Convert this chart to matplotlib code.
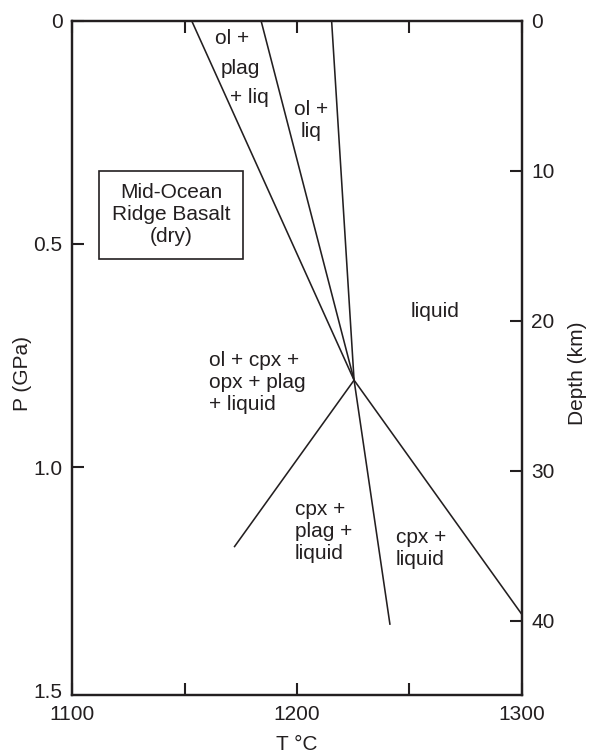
import matplotlib.pyplot as plt

plt.rcParams['font.family'] = ['Liberation Sans', 'DejaVu Sans']
ink = '#231f20'

# phase boundaries (T in °C, P in GPa)
invariant_T, invariant_P = 1225.4, 0.805
ol_plag_T = [1153.1, invariant_T]
ol_plag_P = [0.0, invariant_P]
ol_T = [1184.0, invariant_T]
ol_P = [0.0, invariant_P]
liquidus_T = [1215.4, invariant_T, 1241.4]
liquidus_P = [0.0, invariant_P, 1.353]
opx_T = [1172.0, invariant_T]
opx_P = [1.179, invariant_P]
cpx_T = [invariant_T, 1300.0]
cpx_P = [invariant_P, 1.329]

# field labels
field_text = ['ol +', 'plag', '+ liq', 'ol +\nliq', 'liquid',
              'ol + cpx +\nopx + plag\n+ liquid', 'cpx +\nplag +\nliquid', 'cpx +\nliquid']
field_T = [1170.9, 1174.6, 1178.6, 1206.2, 1261.4, 1161.0, 1199.1, 1243.9]
field_P = [0.039, 0.106, 0.171, 0.224, 0.652, 0.811, 1.145, 1.183]
field_ha = ['center', 'center', 'center', 'center', 'center', 'left', 'left', 'left']

x_ticks = [1100, 1150, 1200, 1250, 1300]
x_ticklabels = ['1100', '', '1200', '', '1300']
p_ticks = [0, 0.5, 1.0]
p_ticklabels = ['0', '0.5', '1.0']
p_bottom_tick = [1.5]
p_bottom_label = ['1.5']
depth_ticks = [0, 10, 20, 30, 40]

fig = plt.figure(figsize=(5.89, 7.55), dpi=100)
ax = fig.add_axes([0.1228, 0.0795, 0.7629, 0.8931])

for T, P in [(ol_plag_T, ol_plag_P), (ol_T, ol_P), (liquidus_T, liquidus_P),
             (opx_T, opx_P), (cpx_T, cpx_P)]:
    ax.plot(T, P, color=ink, lw=1.15, solid_capstyle='butt', clip_on=False)

for s, t, p, ha in zip(field_text, field_T, field_P, field_ha):
    ax.text(t, p, s, ha=ha, va='center', fontsize=15, color=ink, linespacing=1.2)

ax.text(1143.9, 0.4345, 'Mid-Ocean\nRidge Basalt\n(dry)', ha='center', va='center',
        fontsize=15, color=ink, linespacing=1.2,
        bbox=dict(boxstyle='square,pad=0.6', facecolor='white', edgecolor=ink, lw=1.2))

ax.set_xlim(1100, 1300)
ax.set_ylim(1.51, 0)
ax.set_xticks(x_ticks)
ax.set_xticklabels(x_ticklabels)
ax.set_yticks(p_ticks)
ax.set_yticklabels(p_ticklabels)
# 1.5 is only a label, no tick mark
ax.set_yticks(p_bottom_tick, minor=True)
ax.set_yticklabels(p_bottom_label, minor=True)
ax.tick_params(direction='in', length=8.5, width=1.5, labelsize=15, pad=7,
               colors=ink, top=True, right=False)
ax.tick_params(axis='y', which='minor', length=0, labelsize=15, pad=7, colors=ink)
for sp in ax.spines.values():
    sp.set_linewidth(1.6)
    sp.set_color(ink)

ax.set_xlabel('T °C', fontsize=15, color=ink)
ax.xaxis.set_label_coords(0.5, -0.06)
ax.set_ylabel('P (GPa)', fontsize=15, color=ink)
ax.yaxis.set_label_coords(-0.09, 0.4775)

ax2 = ax.twinx()
ax2.set_ylim(44.95, 0)
ax2.set_yticks(depth_ticks)
ax2.tick_params(direction='in', length=8.5, width=1.5, labelsize=15, pad=7, colors=ink)
for sp in ax2.spines.values():
    sp.set_linewidth(1.6)
    sp.set_color(ink)
ax2.set_ylabel('Depth (km)', fontsize=15, color=ink)
ax2.yaxis.set_label_coords(1.103, 0.4775)

fig.savefig('out.png', dpi=100)
